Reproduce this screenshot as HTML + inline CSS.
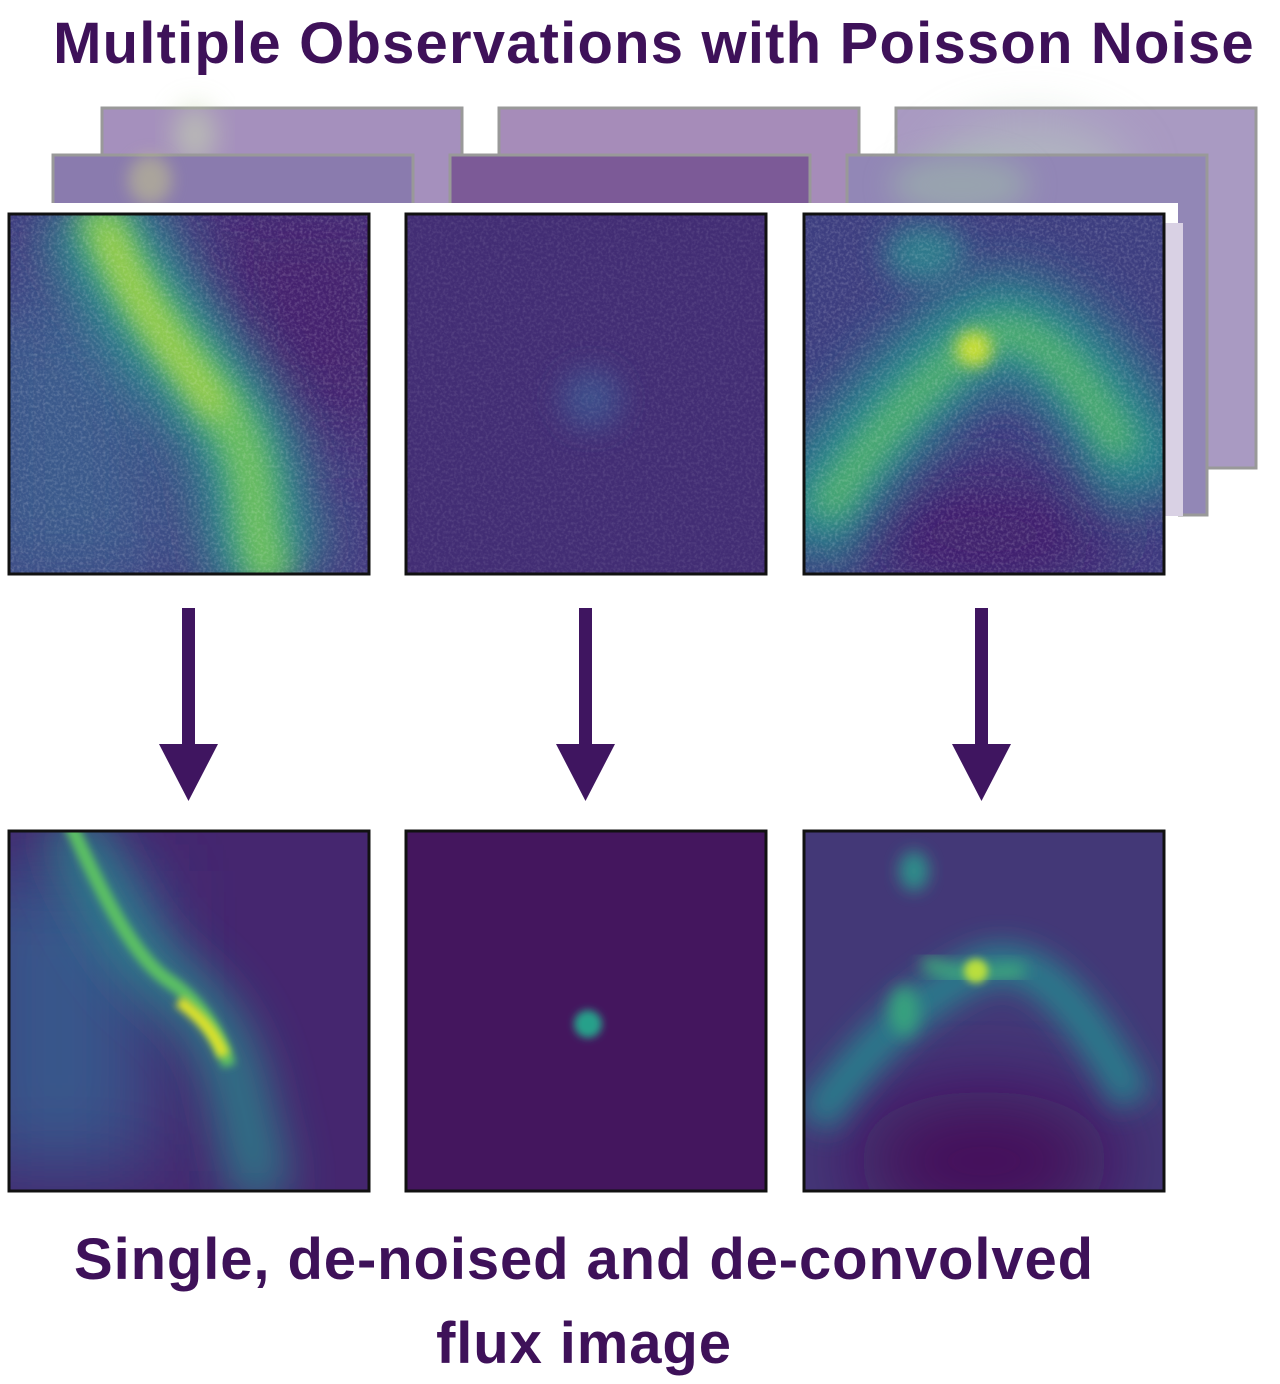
<!DOCTYPE html>
<html><head><meta charset="utf-8">
<style>
html,body{margin:0;padding:0;background:#fff;}
body{width:1280px;height:1384px;overflow:hidden;position:relative;font-family:"Liberation Sans",sans-serif;}
.t{position:absolute;color:#3e1159;font-weight:bold;white-space:nowrap;text-align:center;}
</style></head><body>
<div class="t" style="left:0;width:1308px;top:10px;font-size:58px;letter-spacing:1.2px;">Multiple Observations with Poisson Noise</div>
<svg width="1280" height="1384" style="position:absolute;left:0;top:0">
<defs>
<filter id="b8" x="-50%" y="-50%" width="200%" height="200%"><feGaussianBlur stdDeviation="8"/></filter>
<filter id="b14" x="-50%" y="-50%" width="200%" height="200%"><feGaussianBlur stdDeviation="14"/></filter>
<filter id="b25" x="-50%" y="-50%" width="200%" height="200%"><feGaussianBlur stdDeviation="25"/></filter>
<filter id="b40" x="-50%" y="-50%" width="200%" height="200%"><feGaussianBlur stdDeviation="40"/></filter>
<filter id="b4" x="-50%" y="-50%" width="200%" height="200%"><feGaussianBlur stdDeviation="4"/></filter>
<filter id="noise"><feTurbulence type="fractalNoise" baseFrequency="0.35" numOctaves="2" seed="3"/><feColorMatrix type="matrix" values="0 0 0 0 1  0 0 0 0 1  0 0 0 0 1  0 0 0 1.2 -0.5"/></filter>
<clipPath id="c"><rect x="0" y="0" width="360" height="360"/></clipPath>
</defs>

<g>
<rect x="102" y="108" width="360" height="360" fill="#a590bd" stroke="#999" stroke-width="3"/>
<rect x="499" y="108" width="360" height="360" fill="#a68cb9" stroke="#999" stroke-width="3"/>
<rect x="896" y="108" width="360" height="360" fill="#a99ac2" stroke="#999" stroke-width="3"/>
<ellipse cx="195" cy="135" rx="20" ry="30" fill="#c8dab0" opacity="0.6" filter="url(#b14)"/>
<ellipse cx="1030" cy="180" rx="100" ry="60" fill="#b8cfc0" opacity="0.5" filter="url(#b25)"/>
<rect x="53" y="155" width="360" height="360" fill="#8a7bae" stroke="#999" stroke-width="3"/>
<rect x="450" y="155" width="360" height="360" fill="#7c5a97" stroke="#999" stroke-width="3"/>
<rect x="847" y="155" width="360" height="360" fill="#9287b6" stroke="#999" stroke-width="3"/>
<ellipse cx="150" cy="180" rx="22" ry="25" fill="#c0c090" opacity="0.6" filter="url(#b8)"/>
<ellipse cx="960" cy="185" rx="70" ry="30" fill="#9fc0a8" opacity="0.5" filter="url(#b14)"/>
</g>
<rect x="0" y="203" width="1178" height="400" fill="#fff"/>
<rect x="1163" y="223" width="20" height="293" fill="#d9d1e4"/>

<g transform="translate(9,214)">
<g clip-path="url(#c)">
<rect width="360" height="360" fill="#433a7f"/>
<rect x="-40" y="80" width="200" height="300" fill="#3a5a8c" filter="url(#b40)"/>
<rect x="200" y="-20" width="200" height="240" fill="#45206e" filter="url(#b40)"/>
<path d="M80 -10 C120 80,160 120,210 190 S230 300,270 370" stroke="#2a8d8c" stroke-width="110" fill="none" filter="url(#b25)"/>
<path d="M85 -10 C120 80,160 120,210 190 S235 300,265 370" stroke="#6cbf5e" stroke-width="45" fill="none" filter="url(#b14)"/>
<path d="M95 10 C130 100,170 140,210 200" stroke="#b5d840" stroke-width="18" fill="none" filter="url(#b14)"/>
<rect width="360" height="360" filter="url(#noise)" opacity="0.35"/>
</g><rect width="360" height="360" fill="none" stroke="#111" stroke-width="3"/></g>

<g transform="translate(406,214)">
<g clip-path="url(#c)">
<rect width="360" height="360" fill="#422d74"/>
<ellipse cx="185" cy="185" rx="30" ry="30" fill="#3d4e8a" filter="url(#b14)"/>
<rect width="360" height="360" filter="url(#noise)" opacity="0.2"/>
</g><rect width="360" height="360" fill="none" stroke="#111" stroke-width="3"/></g>

<g transform="translate(804,214)">
<g clip-path="url(#c)">
<rect width="360" height="360" fill="#3d3e80"/>
<ellipse cx="180" cy="320" rx="140" ry="60" fill="#431f6c" filter="url(#b40)"/>
<path d="M-10 330 C60 220,120 160,170 120 S300 170,350 280" stroke="#28878c" stroke-width="100" fill="none" filter="url(#b25)"/>
<path d="M20 300 C70 220,120 170,170 130 S280 160,320 240" stroke="#4fae6e" stroke-width="35" fill="none" filter="url(#b14)"/>
<ellipse cx="170" cy="135" rx="18" ry="18" fill="#c8de36" filter="url(#b8)"/>
<ellipse cx="120" cy="40" rx="40" ry="30" fill="#2d7c8c" filter="url(#b14)"/>
<rect width="360" height="360" filter="url(#noise)" opacity="0.35"/>
</g><rect width="360" height="360" fill="none" stroke="#111" stroke-width="3"/></g>

<g fill="#3f1560">
<rect x="182" y="608" width="13" height="140"/><polygon points="159,744 218,744 188.5,801"/>
<rect x="579" y="608" width="13" height="140"/><polygon points="556,744 615,744 585.5,801"/>
<rect x="975" y="608" width="13" height="140"/><polygon points="952,744 1011,744 981.5,801"/>
</g>

<g transform="translate(9,831)">
<g clip-path="url(#c)">
<rect width="360" height="360" fill="#45266f"/>
<rect x="-40" y="40" width="180" height="300" fill="#39568b" filter="url(#b40)"/>
<path d="M60 -10 C100 80,130 130,160 150 S220 210,230 260 S250 330,250 370" stroke="#2a858c" stroke-width="50" fill="none" filter="url(#b25)"/>
<path d="M60 -10 C100 80,130 130,160 150 S210 200,220 235" stroke="#5cc063" stroke-width="14" fill="none" filter="url(#b4)"/>
<path d="M170 170 C190 185,205 200,215 225" stroke="#dfe22a" stroke-width="12" fill="none" filter="url(#b4)"/>
</g><rect width="360" height="360" fill="none" stroke="#111" stroke-width="3"/></g>

<g transform="translate(406,831)">
<g clip-path="url(#c)">
<rect width="360" height="360" fill="#44165e"/>
<circle cx="182" cy="193" r="14" fill="#27a08a" filter="url(#b4)"/>
</g><rect width="360" height="360" fill="none" stroke="#111" stroke-width="3"/></g>

<g transform="translate(804,831)">
<g clip-path="url(#c)">
<rect width="360" height="360" fill="#433877"/>
<ellipse cx="180" cy="330" rx="130" ry="70" fill="#440e5a" filter="url(#b40)"/>
<path d="M10 290 C60 220,110 170,170 140 S280 180,330 270" stroke="#2b7b8c" stroke-width="40" fill="none" filter="url(#b14)"/>
<path d="M120 130 C150 150,190 140,220 140" stroke="#3fae7a" stroke-width="14" fill="none" filter="url(#b8)"/>
<circle cx="172" cy="140" r="12" fill="#b9de3c" filter="url(#b4)"/>
<ellipse cx="110" cy="40" rx="15" ry="20" fill="#2f8e8a" filter="url(#b8)"/>
<ellipse cx="100" cy="180" rx="15" ry="25" fill="#37a27e" filter="url(#b8)"/>
</g><rect width="360" height="360" fill="none" stroke="#111" stroke-width="3"/></g>
</svg>
<div class="t" style="left:0;width:1168px;top:1226px;font-size:58px;letter-spacing:0.9px;">Single, de-noised and de-convolved</div>
<div class="t" style="left:0;width:1168px;top:1310px;font-size:58px;letter-spacing:0.9px;">flux image</div>
</body></html>
